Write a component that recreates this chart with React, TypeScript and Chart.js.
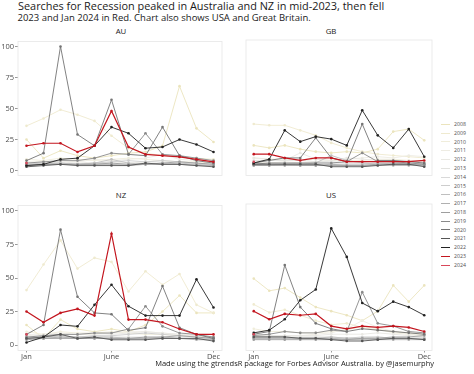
import React, { useEffect, useRef } from 'react';
import { Chart, registerables } from 'chart.js';

Chart.register(...registerables);

// ---------- data ----------
const years = ['2008', '2009', '2010', '2011', '2012', '2013', '2014', '2015', '2016', '2017', '2018', '2019', '2020', '2021', '2022', '2023', '2024'];
const months = ['Jan', 'Feb', 'Mar', 'Apr', 'May', 'June', 'July', 'Aug', 'Sep', 'Oct', 'Nov', 'Dec'];
const shownMonths = ['Jan', 'June', 'Dec'];
const yTicks = [0, 25, 50, 75, 100];

const au: number[][] = [
  [25, 10, 16, 12, 10, 12, 14, 15, 20, 68, 34, 23],
  [36, 42, 49, 45, 40, 28, 18, 14, 12, 11, 10, 9],
  [9, 8, 10, 9, 8, 9, 10, 9, 8, 7, 7, 6],
  [7, 7, 8, 7, 9, 8, 9, 10, 13, 9, 8, 7],
  [6, 7, 6, 7, 6, 7, 6, 7, 8, 7, 6, 5],
  [5, 6, 6, 5, 6, 5, 5, 6, 6, 5, 5, 4],
  [5, 5, 5, 5, 6, 5, 5, 5, 6, 5, 5, 4],
  [5, 6, 6, 5, 6, 7, 8, 7, 8, 7, 6, 5],
  [5, 5, 6, 5, 6, 9, 6, 5, 5, 6, 5, 4],
  [4, 5, 5, 5, 5, 5, 4, 5, 5, 5, 4, 4],
  [4, 5, 5, 5, 5, 6, 5, 5, 6, 7, 6, 5],
  [6, 7, 8, 8, 10, 14, 13, 30, 13, 12, 10, 8],
  [8, 14, 100, 29, 20, 57, 13, 12, 35, 12, 8, 6],
  [3, 4, 5, 4, 4, 4, 4, 6, 5, 5, 4, 3],
  [4, 5, 9, 10, 20, 35, 30, 18, 19, 25, 21, 15],
  [20, 22, 22, 15, 20, 48, 19, 13, 12, 11, 9, 7],
  [6],
];

const gb: number[][] = [
  [20, 18, 20, 17, 15, 14, 15, 14, 17, 31, 33, 24],
  [37, 36, 36, 32, 28, 22, 18, 15, 13, 12, 11, 10],
  [10, 9, 9, 8, 9, 8, 8, 8, 9, 9, 8, 7],
  [7, 6, 7, 6, 7, 8, 9, 10, 11, 10, 12, 11],
  [10, 9, 8, 14, 9, 8, 10, 9, 8, 8, 8, 7],
  [8, 8, 8, 8, 7, 7, 6, 6, 6, 6, 5, 5],
  [5, 5, 5, 5, 5, 5, 5, 5, 5, 5, 5, 4],
  [5, 5, 5, 5, 5, 5, 5, 5, 6, 5, 5, 4],
  [5, 5, 5, 5, 6, 12, 8, 6, 5, 6, 5, 4],
  [4, 4, 5, 4, 4, 5, 4, 4, 4, 4, 4, 4],
  [4, 4, 4, 4, 4, 4, 4, 4, 5, 5, 5, 5],
  [5, 6, 6, 6, 6, 6, 7, 14, 7, 7, 6, 5],
  [6, 8, 10, 10, 26, 10, 7, 37, 8, 8, 7, 6],
  [5, 5, 5, 5, 5, 3, 3, 3, 4, 5, 5, 3],
  [6, 9, 32, 23, 27, 25, 20, 48, 28, 18, 33, 11],
  [13, 13, 10, 8, 10, 10, 7, 7, 7, 7, 7, 8],
  [7],
];

const nz: number[][] = [
  [15, 5, 19, 12, 10, 12, 10, 15, 25, 37, 24, 24],
  [41, 60, 78, 57, 65, 62, 40, 55, 45, 53, 30, 24],
  [10, 8, 10, 9, 9, 10, 9, 8, 8, 7, 7, 6],
  [7, 8, 9, 8, 8, 9, 10, 10, 9, 8, 7, 6],
  [8, 7, 8, 8, 9, 8, 9, 10, 9, 8, 7, 6],
  [5, 6, 6, 6, 7, 6, 6, 6, 6, 5, 5, 5],
  [5, 5, 6, 5, 6, 5, 5, 5, 6, 5, 5, 4],
  [6, 6, 7, 6, 7, 7, 8, 9, 8, 7, 6, 5],
  [5, 6, 7, 6, 6, 6, 5, 5, 6, 5, 5, 4],
  [5, 5, 6, 5, 5, 5, 5, 5, 5, 5, 4, 4],
  [4, 5, 5, 5, 5, 5, 5, 6, 6, 7, 6, 5],
  [6, 7, 8, 8, 9, 9, 12, 29, 14, 9, 8, 6],
  [8, 15, 86, 36, 24, 23, 11, 13, 44, 13, 8, 5],
  [5, 6, 8, 5, 6, 4, 4, 4, 5, 5, 5, 3],
  [2, 6, 15, 14, 30, 45, 29, 22, 22, 22, 49, 28],
  [25, 17, 24, 27, 22, 83, 19, 19, 17, 12, 8, 8],
  [8],
];

const us: number[][] = [
  [49, 40, 42, 35, 28, 25, 22, 18, 25, 44, 32, 44],
  [30, 24, 26, 22, 18, 15, 16, 13, 11, 10, 9, 8],
  [12, 10, 10, 9, 9, 10, 11, 14, 12, 9, 8, 7],
  [8, 7, 7, 7, 8, 9, 12, 18, 13, 10, 8, 7],
  [8, 7, 7, 7, 7, 8, 8, 8, 9, 8, 7, 6],
  [6, 6, 6, 6, 6, 6, 5, 5, 6, 5, 5, 5],
  [5, 5, 5, 5, 5, 5, 5, 5, 5, 5, 5, 4],
  [5, 5, 5, 5, 5, 5, 5, 6, 6, 5, 5, 5],
  [6, 6, 6, 5, 5, 6, 5, 5, 5, 5, 5, 5],
  [5, 5, 5, 5, 5, 5, 4, 4, 4, 4, 4, 4],
  [4, 4, 4, 4, 4, 4, 4, 5, 5, 6, 6, 7],
  [7, 8, 10, 9, 9, 11, 10, 39, 16, 14, 10, 9],
  [8, 10, 59, 28, 16, 12, 10, 12, 11, 10, 9, 8],
  [6, 6, 6, 5, 5, 4, 3, 3, 4, 5, 5, 4],
  [9, 11, 19, 33, 41, 86, 65, 31, 25, 32, 28, 22],
  [25, 19, 23, 22, 23, 14, 12, 14, 13, 14, 13, 10],
  [8],
];

// ---------- styles ----------
const yearColors = [
  '#ebe4bd', '#efeacf', '#f0eddb', '#eeece3', '#e9e8e3', '#e2e2df', '#d9d9d9',
  '#cdcdcd', '#bfbfbf', '#b0b0b0', '#9e9e9e', '#8a8a8a', '#747474', '#555555',
  '#222222', '#c3161f', '#d9475a',
];

const FONT = '"Open Sans", sans-serif';
const TEXT = '#1a1a1a';
const AXIS_TEXT = '#4d4d4d';

Chart.defaults.font.family = FONT;

const panelBorder = {
  id: 'panelBorder',
  beforeDatasetsDraw(chart: any) {
    const a = chart.chartArea;
    const ctx = chart.ctx;
    ctx.save();
    ctx.strokeStyle = '#e6e6e6';
    ctx.lineWidth = 0.8;
    ctx.strokeRect(a.left, a.top, a.right - a.left, a.bottom - a.top);
    ctx.restore();
  },
};

type Spec = {
  name: string;
  values: number[][];
  left: number;
  top: number;
  width: number;
  height: number;
  pad: { left: number; right: number; top: number; bottom: number };
  showY: boolean;
  showX: boolean;
  stripTop: number;
  stripCenter: number;
};

function Panel({ spec }: { spec: Spec }) {
  const ref = useRef<HTMLCanvasElement>(null);
  useEffect(() => {
    const chart = new Chart(ref.current as HTMLCanvasElement, {
      type: 'line',
      data: {
        labels: months,
        datasets: spec.values.map((row, i) => ({
          label: years[i],
          data: months.map((_, m) => (row[m] === undefined ? null : row[m])),
          borderColor: yearColors[i],
          backgroundColor: yearColors[i],
          pointBackgroundColor: yearColors[i],
          pointBorderWidth: 0,
          pointRadius: 1.3,
          borderWidth: i >= 15 ? 1.2 : 0.9,
          tension: 0,
          spanGaps: false,
          order: years.length - i,
        })),
      },
      options: {
        animation: false,
        responsive: true,
        maintainAspectRatio: false,
        layout: { padding: spec.pad },
        events: [],
        plugins: {
          legend: { display: false },
          tooltip: { enabled: false },
          title: { display: false },
        },
        scales: {
          x: {
            type: 'category',
            offset: true,
            display: spec.showX,
            border: { display: false },
            grid: {
              display: true,
              drawOnChartArea: false,
              drawTicks: true,
              tickLength: 2,
              color: (ctx: any) => (shownMonths.includes(months[ctx.index]) ? '#9a9a9a' : 'rgba(0,0,0,0)'),
            },
            ticks: {
              autoSkip: false,
              maxRotation: 0,
              minRotation: 0,
              padding: 0,
              color: AXIS_TEXT,
              font: { size: 7.5, family: FONT },
              callback: (_v: any, i: number) => (shownMonths.includes(months[i]) ? months[i] : ''),
            },
            afterFit: (a: any) => {
              a.height = 12;
            },
          },
          y: {
            type: 'linear',
            min: -4,
            max: 104,
            display: spec.showY,
            border: { display: false },
            grid: {
              display: true,
              drawOnChartArea: false,
              drawTicks: true,
              tickLength: 3,
              color: '#9a9a9a',
            },
            afterBuildTicks: (a: any) => {
              a.ticks = yTicks.map((v) => ({ value: v }));
            },
            ticks: {
              padding: 1,
              color: AXIS_TEXT,
              font: { size: 7.5, family: FONT },
            },
            afterFit: (a: any) => {
              a.width = 18;
            },
          },
        },
      },
      plugins: [panelBorder],
    } as any);
    return () => chart.destroy();
  }, []);
  return (
    <>
      <div
        style={{
          position: 'absolute',
          left: spec.stripCenter - 30,
          width: 60,
          top: spec.stripTop,
          textAlign: 'center',
          fontSize: 7.8,
          lineHeight: '7.8px',
          color: TEXT,
          whiteSpace: 'nowrap',
        }}
      >
        {spec.name}
      </div>
      <div style={{ position: 'absolute', left: spec.left, top: spec.top, width: spec.width, height: spec.height }}>
        <canvas ref={ref} />
      </div>
    </>
  );
}

const panels: Spec[] = [
  { name: 'AU', values: au, left: 0, top: 36, width: 226, height: 154, pad: { left: 0, right: 2, top: 3.2, bottom: 2.5 }, showY: true, showX: false, stripTop: 27.8, stripCenter: 121 },
  { name: 'GB', values: gb, left: 226, top: 36, width: 210, height: 154, pad: { left: 2, right: 2, top: 3.2, bottom: 2.5 }, showY: false, showX: false, stripTop: 27.8, stripCenter: 331 },
  { name: 'NZ', values: nz, left: 0, top: 200, width: 226, height: 163, pad: { left: 0, right: 2, top: 2.8, bottom: 0.5 }, showY: true, showX: true, stripTop: 191.6, stripCenter: 121 },
  { name: 'US', values: us, left: 226, top: 200, width: 210, height: 163, pad: { left: 2, right: 2, top: 2.8, bottom: 0.5 }, showY: false, showX: true, stripTop: 191.6, stripCenter: 331 },
];

export default function App() {
  return (
    <div
      style={{
        position: 'absolute',
        left: 0,
        top: 0,
        width: 474,
        height: 374,
        background: '#ffffff',
        fontFamily: FONT,
        overflow: 'hidden',
      }}
    >
      <div style={{ position: 'absolute', left: 18, top: 0.8, fontSize: 10.9, lineHeight: '10.9px', color: TEXT, whiteSpace: 'nowrap' }}>
        Searches for Recession peaked in Australia and NZ in mid-2023, then fell
      </div>
      <div style={{ position: 'absolute', left: 17.5, top: 12.6, fontSize: 9.5, lineHeight: '9.5px', color: TEXT, whiteSpace: 'nowrap' }}>
        2023 and Jan 2024 in Red. Chart also shows USA and Great Britain.
      </div>
      {panels.map((p) => (
        <Panel key={p.name} spec={p} />
      ))}
      {years.map((y, i) => (
        <div
          key={y}
          style={{
            position: 'absolute',
            left: 441,
            top: 124.4 + 8.8 * i - 4.4,
            height: 8.8,
            display: 'flex',
            alignItems: 'center',
          }}
        >
          <div style={{ width: 9, height: 1, background: yearColors[i], marginRight: 4 }} />
          <div style={{ fontSize: 5.2, lineHeight: '8.8px', color: AXIS_TEXT }}>{y}</div>
        </div>
      ))}
      <div
        style={{
          position: 'absolute',
          right: 40,
          top: 359.6,
          fontSize: 7.5,
          lineHeight: '7.5px',
          color: TEXT,
          whiteSpace: 'nowrap',
        }}
      >
        Made using the gtrendsR package for Forbes Advisor Australia. by @jasemurphy
      </div>
    </div>
  );
}
